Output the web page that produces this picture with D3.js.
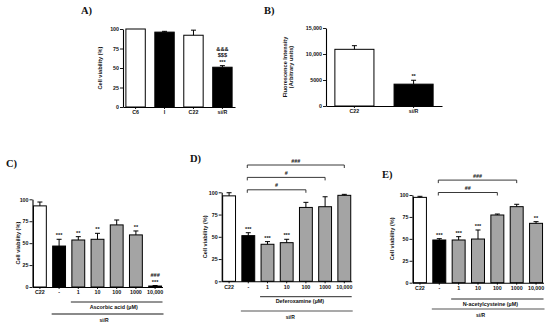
<!DOCTYPE html>
<html>
<head>
<meta charset="utf-8">
<script src="https://cdn.jsdelivr.net/npm/d3@7"></script>
<style>
  html, body { margin: 0; padding: 0; background: #fff; }
  svg text { font-family: "Liberation Sans", Arial, sans-serif; font-weight: bold; fill: #111; }
  .tick text { font-size: 5.3px; }
  .panel-title { font-family: "Liberation Serif", "Times New Roman", serif !important; font-size: 10.5px; }
</style>
</head>
<body>
<svg id="chart" width="550" height="327"></svg>
<script>
// ---------------- data ----------------
const catsA = ["C6", "I", "C22", "si/R"];
const groupA = ["ctrl", "sir", "ctrl", "sir"];
const meanA = [100, 96, 92, 51];
const errA = [0, 1, 6.5, 2];
const sigA = [[], [], [], ["***", "$$$", "&&&"]];

const catsB = ["C22", "si/R"];
const groupB = ["ctrl", "sir"];
const meanB = [10900, 4200];
const errB = [700, 750];
const sigB = [[], ["**"]];
const ticksB = [0, 5000, 10000, 15000];

const catsDose = ["C22", "-", "1", "10", "100", "1000", "10,000"];
const groupDose = ["ctrl", "sir", "trt", "trt", "trt", "trt", "trt"];
const ticksViability = [0, 25, 50, 75, 100];

const meanC = [92.5, 46.7, 53.6, 54.4, 70.8, 59.4, 1.1];
const errC = [4.4, 7.7, 3.8, 6.8, 5.6, 4.5, 0.6];
const sigC = [[], ["***"], ["**"], ["**"], [], ["**"], ["***", "###"]];
const bracketsC = [];

const meanD = [96, 51.3, 41.6, 43.4, 83, 83.8, 96.6];
const errD = [3.5, 3.3, 3, 3.8, 5.7, 11.2, 1.1];
const sigD = [[], ["***"], ["***"], ["***"], [], [], []];
const bracketsD = [["-", "100", "#"], ["-", "1000", "#"], ["-", "10,000", "###"]];

const meanE = [97.3, 48.7, 48.7, 49.8, 77.2, 86.7, 67.7];
const errE = [1.2, 1.5, 3.8, 10.3, 1.1, 2.7, 1.9];
const sigE = [[], ["***"], ["***"], ["***"], [], [], ["**"]];
const bracketsE = [["-", "100", "##"], ["-", "1000", "###"]];

const fills = { ctrl: "#ffffff", sir: "#000000", trt: "#a4a4a4" };

// ---------------- drawing ----------------
const svg = d3.select("#chart");

function drawPanel(p) {
    const g = svg.append("g");
    const x = d3.scaleBand()
        .domain(p.cats)
        .range([p.left, p.right])
        .paddingInner(p.padIn)
        .paddingOuter(p.padOut);
    const y = d3.scaleLinear().domain([0, p.ymax]).range([p.bottom, p.top]);

    // title letter
    g.append("text")
        .attr("class", "panel-title")
        .attr("x", p.titleX).attr("y", p.titleY)
        .text(p.title);

    // bars
    const bars = p.cats.map((c, i) => ({ c: c, m: p.mean[i], e: p.err[i], grp: p.group[i], sig: p.sig[i] }));
    g.selectAll("rect.bar").data(bars).enter().append("rect")
        .attr("class", "bar")
        .attr("x", d => x(d.c))
        .attr("y", d => y(d.m))
        .attr("width", x.bandwidth())
        .attr("height", d => p.bottom - y(d.m))
        .attr("fill", d => fills[d.grp])
        .attr("stroke", "#000")
        .attr("stroke-width", 1);

    // error bars (upper only)
    const eb = g.selectAll("g.err").data(bars.filter(d => d.e > 0)).enter().append("g");
    eb.append("line")
        .attr("x1", d => x(d.c) + x.bandwidth() / 2).attr("x2", d => x(d.c) + x.bandwidth() / 2)
        .attr("y1", d => y(d.m)).attr("y2", d => y(d.m + d.e))
        .attr("stroke", "#000").attr("stroke-width", 1);
    eb.append("line")
        .attr("x1", d => x(d.c) + x.bandwidth() / 2 - 2.5).attr("x2", d => x(d.c) + x.bandwidth() / 2 + 2.5)
        .attr("y1", d => y(d.m + d.e)).attr("y2", d => y(d.m + d.e))
        .attr("stroke", "#000").attr("stroke-width", 1);

    // significance marks stacked above bars
    bars.forEach(d => {
        d.sig.forEach((s, k) => {
            g.append("text")
                .attr("x", x(d.c) + x.bandwidth() / 2)
                .attr("y", y(d.m + d.e) - 2 - k * 6.3)
                .attr("text-anchor", "middle")
                .attr("font-size", "5.6px")
                .text(s);
        });
    });

    // brackets
    p.brackets.forEach((b, k) => {
        const x1 = x(b[0]) + x.bandwidth() / 2 - 1;
        const x2 = x(b[1]) + x.bandwidth() / 2;
        const yy = y(100) - 2.5 - k * 12.4;
        g.append("path")
            .attr("d", `M${x1},${yy + 3}V${yy}H${x2}V${yy + 3}`)
            .attr("fill", "none").attr("stroke", "#222").attr("stroke-width", 0.9);
        g.append("text")
            .attr("x", (x1 + x2) / 2).attr("y", yy - 2.5)
            .attr("text-anchor", "middle").attr("font-size", "5.4px")
            .text(b[2]);
    });

    // axes
    const xAxis = g.append("g")
        .attr("transform", `translate(0,${p.bottom})`)
        .call(d3.axisBottom(x).tickSize(2).tickSizeOuter(0).tickPadding(1.5));
    const yAxis = g.append("g")
        .attr("transform", `translate(${p.left},0)`)
        .call(d3.axisLeft(y).tickValues(p.ticks).tickFormat(p.fmt || (d => d)).tickSize(3).tickSizeOuter(0).tickPadding(1));
    [xAxis, yAxis].forEach(a => {
        a.select(".domain").attr("stroke-width", 1.1);
        a.selectAll(".tick line").attr("stroke-width", 0.9);
        a.attr("font-family", null).attr("font-size", null);
    });

    // y axis label
    p.ylabel.forEach((t, k) => {
        g.append("text")
            .attr("transform", `translate(${p.left - p.ylabelOff + k * 6.2},${(p.top + p.bottom) / 2}) rotate(-90)`)
            .attr("text-anchor", "middle")
            .attr("font-size", "5.6px")
            .text(t);
    });

    // treatment / si/R lines beneath the axis
    if (p.treat) {
        const tx1 = x("1") - 1;
        const tx2 = p.right;
        g.append("line")
            .attr("x1", tx1).attr("x2", tx2)
            .attr("y1", p.treatY).attr("y2", p.treatY)
            .attr("stroke", "#111").attr("stroke-width", 0.9);
        g.append("text")
            .attr("x", (tx1 + tx2) / 2 - p.labShift).attr("y", p.treatY + 6.5)
            .attr("text-anchor", "middle").attr("font-size", "5.4px")
            .text(p.treat);
        const sx1 = x("-") - 1;
        g.append("line")
            .attr("x1", sx1).attr("x2", tx2 + 1)
            .attr("y1", p.sirY).attr("y2", p.sirY)
            .attr("stroke", p.sirColor).attr("stroke-width", p.sirWidth);
        g.append("text")
            .attr("x", (sx1 + tx2) / 2 - p.labShift).attr("y", p.sirY + 7.5)
            .attr("text-anchor", "middle").attr("font-size", "5px")
            .text("si/R");
    }
}

drawPanel({
    title: "A)", titleX: 81, titleY: 13.5,
    cats: catsA, mean: meanA, err: errA, group: groupA, sig: sigA, brackets: [],
    left: 123, right: 235, top: 29, bottom: 107, padIn: 0.33, padOut: 0.1,
    ymax: 100, ticks: ticksViability, ylabel: ["Cell viability (%)"], ylabelOff: 21
});

drawPanel({
    title: "B)", titleX: 264, titleY: 13.5,
    cats: catsB, mean: meanB, err: errB, group: groupB, sig: sigB, brackets: [],
    left: 326, right: 442, top: 28, bottom: 106, padIn: 0.34, padOut: 0.15,
    ymax: 15000, ticks: ticksB, fmt: d => d >= 10000 ? d3.format(",")(d) : d,
    ylabel: ["Fluorescence Intensity", "(Arbitrary units)"], ylabelOff: 39
});

drawPanel({
    title: "C)", titleX: 6, titleY: 167,
    cats: catsDose, mean: meanC, err: errC, group: groupDose, sig: sigC, brackets: bracketsC,
    left: 32.5, right: 162.5, top: 199.3, bottom: 287, padIn: 0.33, padOut: 0.05,
    ymax: 100, ticks: ticksViability, ylabel: ["Cell viability (%)"], ylabelOff: 13,
    treat: "Ascorbic acid (µM)", treatY: 302, sirY: 314, sirColor: "#8a8a8a", sirWidth: 1.8, labShift: 3
});

drawPanel({
    title: "D)", titleX: 190, titleY: 162,
    cats: catsDose, mean: meanD, err: errD, group: groupDose, sig: sigD, brackets: bracketsD,
    left: 221.7, right: 351.7, top: 192.3, bottom: 281.3, padIn: 0.33, padOut: 0.05,
    ymax: 100, ticks: ticksViability, ylabel: ["Cell viability (%)"], ylabelOff: 14.5,
    treat: "Deferoxamine (µM)", treatY: 296.7, sirY: 311, sirColor: "#555", sirWidth: 1.1, labShift: 6
});

drawPanel({
    title: "E)", titleX: 382, titleY: 177.5,
    cats: catsDose, mean: meanE, err: errE, group: groupDose, sig: sigE, brackets: bracketsE,
    left: 412.5, right: 543.5, top: 195, bottom: 282.7, padIn: 0.33, padOut: 0.05,
    ymax: 100, ticks: ticksViability, ylabel: ["Cell viability (%)"], ylabelOff: 18.5,
    treat: "N-acetylcysteine (µM)", treatY: 299, sirY: 309, sirColor: "#555", sirWidth: 1.1, labShift: 7
});
</script>
</body>
</html>
